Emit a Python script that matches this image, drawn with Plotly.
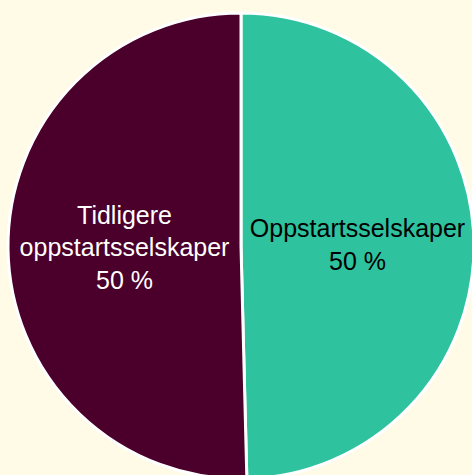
import plotly.graph_objects as go

labels = ["Oppstartsselskaper", "Tidligere<br>oppstartsselskaper"]
values = [49.6, 50.4]
colors = ["#2ec29e", "#4a002b"]
text_colors = ["#000000", "#ffffff"]

fig = go.Figure(go.Pie(
    labels=labels,
    values=values,
    sort=False,
    direction="clockwise",
    rotation=0,
    marker=dict(colors=colors, line=dict(color="#ffffff", width=3)),
    textinfo="text",
    texttemplate="%{label}<br>%{value:.0f} %",
    textposition="inside",
    insidetextorientation="horizontal",
    insidetextfont=dict(family="Liberation Sans, Arial, sans-serif", size=25, color=text_colors),
    hoverinfo="label+percent",
))

fig.update_layout(
    width=482, height=492,
    margin=dict(l=8, r=8, t=13, b=13),
    paper_bgcolor="#fffbe6",
    plot_bgcolor="#fffbe6",
    showlegend=False,
)

# drop the page's default body margin so the figure starts at the window corner
fig.write_html(
    "out.html",
    config={"displayModeBar": False},
    post_script="document.body.style.margin='0';document.body.style.background='#fffbe6';",
)
